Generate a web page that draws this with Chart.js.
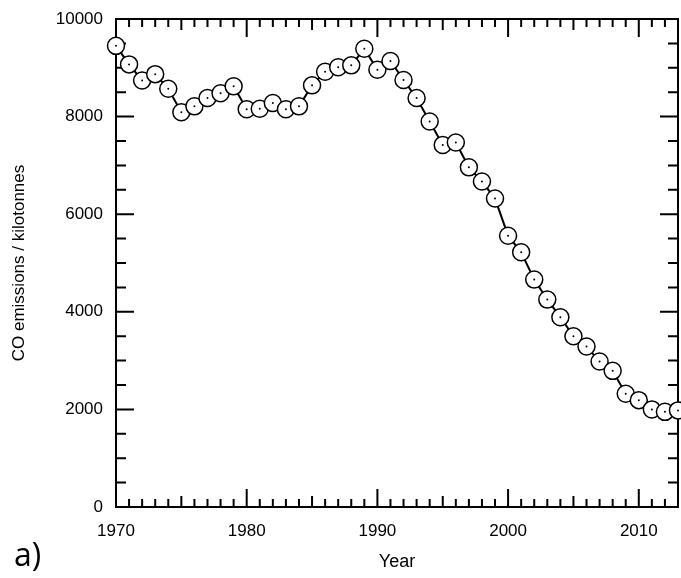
<!DOCTYPE html>
<html lang="en">
<head>
<meta charset="UTF-8">
<title>CO emissions</title>
<script src="https://cdn.jsdelivr.net/npm/chart.js@4.4.1/dist/chart.umd.min.js"></script>
<style>
  html, body { margin: 0; padding: 0; background: #fff; }
  #wrap { position: relative; width: 681px; height: 578px; overflow: hidden; }
  #panel { position: absolute; left: 14px; top: 538px; font-family: "Open Sans", sans-serif; font-size: 32px; line-height: 32px; color: #000; }
</style>
</head>
<body>
<div id="wrap">
  <canvas id="chart" width="681" height="578"></canvas>
  <div id="panel">a)</div>
</div>
<script>
const years = [1970, 1971, 1972, 1973, 1974, 1975, 1976, 1977, 1978, 1979,
               1980, 1981, 1982, 1983, 1984, 1985, 1986, 1987, 1988, 1989,
               1990, 1991, 1992, 1993, 1994, 1995, 1996, 1997, 1998, 1999,
               2000, 2001, 2002, 2003, 2004, 2005, 2006, 2007, 2008, 2009,
               2010, 2011, 2012, 2013];
const emissions = [9450, 9070, 8740, 8870, 8570, 8090, 8210, 8380, 8480, 8620,
                   8150, 8160, 8280, 8150, 8210, 8640, 8920, 9010, 9050, 9390,
                   8960, 9140, 8750, 8380, 7900, 7420, 7470, 6960, 6670, 6320,
                   5560, 5220, 4660, 4250, 3890, 3500, 3290, 2980, 2790, 2320,
                   2190, 2000, 1950, 1980];
const xTickLabels = [1970, 1980, 1990, 2000, 2010];
const yTickLabels = [0, 2000, 4000, 6000, 8000, 10000];

const points = years.map((yr, i) => ({ x: yr, y: emissions[i] }));

Chart.defaults.font.family = '"Liberation Sans", Arial, sans-serif';
Chart.defaults.color = '#000';

// inward ticks on all four sides + top/right frame
const frameTicks = {
  id: 'frameTicks',
  beforeDatasetsDraw(chart) {
    const { ctx, chartArea: a, scales: { x, y } } = chart;
    ctx.save();
    ctx.strokeStyle = '#000';
    ctx.lineWidth = 2;
    ctx.beginPath();
    ctx.rect(a.left, a.top, a.right - a.left, a.bottom - a.top);
    for (let yr = x.min; yr <= x.max; yr++) {
      const px = x.getPixelForValue(yr);
      const len = yr % 10 === 0 ? 18 : (yr % 5 === 0 ? 11 : 8);
      ctx.moveTo(px, a.bottom); ctx.lineTo(px, a.bottom - len);
      ctx.moveTo(px, a.top); ctx.lineTo(px, a.top + len);
    }
    for (let v = y.min; v <= y.max; v += 500) {
      const py = y.getPixelForValue(v);
      const len = v % 2000 === 0 ? 18 : 10;
      ctx.moveTo(a.left, py); ctx.lineTo(a.left + len, py);
      ctx.moveTo(a.right, py); ctx.lineTo(a.right - len, py);
    }
    ctx.stroke();
    ctx.restore();
  }
};

new Chart(document.getElementById('chart'), {
  type: 'line',
  data: {
    datasets: [
      {
        data: points,
        showLine: false,
        pointRadius: 1,
        pointBorderWidth: 0,
        pointBackgroundColor: '#000',
        clip: false,
        order: 0
      },
      {
        data: points,
        borderColor: '#000',
        borderWidth: 2,
        tension: 0,
        pointRadius: 8.5,
        pointBorderWidth: 1.5,
        pointBorderColor: '#000',
        pointBackgroundColor: '#fff',
        clip: false,
        order: 1
      }
    ]
  },
  options: {
    responsive: false,
    animation: false,
    layout: { autoPadding: false, padding: { top: 19, right: 3, left: 0, bottom: 0 } },
    plugins: { legend: { display: false }, tooltip: { enabled: false } },
    scales: {
      x: {
        type: 'linear',
        min: 1970,
        max: 2013,
        grid: { display: false, drawTicks: false },
        border: { display: false },
        afterBuildTicks: s => { s.ticks = xTickLabels.map(v => ({ value: v })); },
        afterFit: s => { s.height = 71; s.paddingLeft = 0; s.paddingRight = 0; },
        ticks: { font: { size: 17 }, padding: 14, maxRotation: 0, autoSkip: false, callback: v => String(v) },
        title: { display: true, text: 'Year', font: { size: 18 }, padding: { top: 0, bottom: 5 } }
      },
      y: {
        min: 0,
        max: 10000,
        grid: { display: false, drawTicks: false },
        border: { display: false },
        afterBuildTicks: s => { s.ticks = yTickLabels.map(v => ({ value: v })); },
        afterFit: s => { s.width = 116; s.paddingTop = 0; s.paddingBottom = 0; },
        ticks: { font: { size: 17 }, padding: 13, callback: v => String(v) },
        title: { display: true, text: 'CO emissions / kilotonnes', font: { size: 17 }, padding: { top: 9, bottom: 0 } }
      }
    }
  },
  plugins: [frameTicks]
});
</script>
</body>
</html>
